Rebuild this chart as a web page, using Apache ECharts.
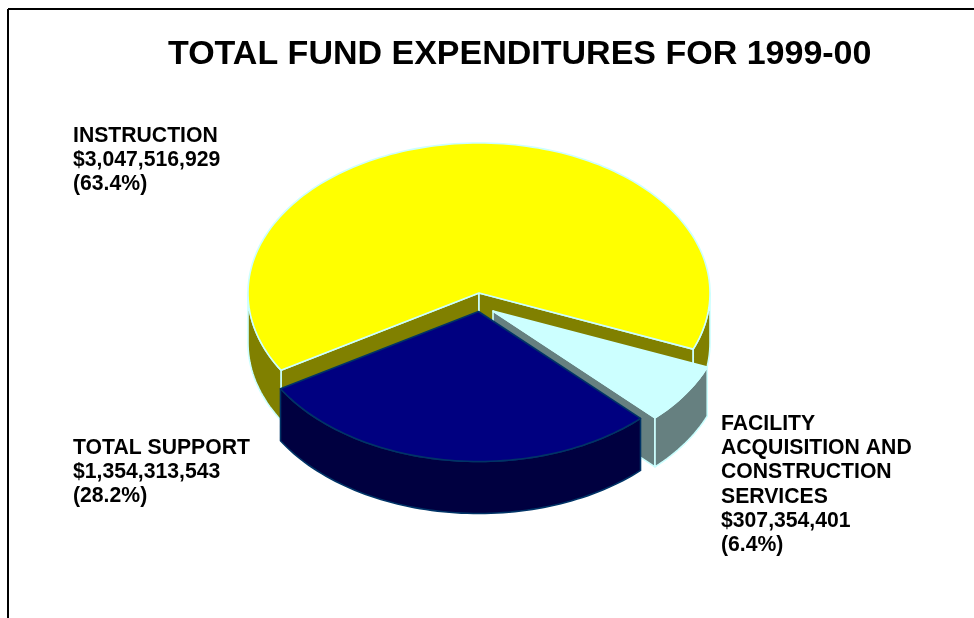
<!DOCTYPE html>
<html>
<head>
<meta charset="utf-8">
<style>html,body{margin:0;padding:0;background:#fff}#c{width:974px;height:618px}</style>
<script src="https://cdn.jsdelivr.net/npm/echarts@6/dist/echarts.min.js"></script>
</head>
<body>
<div id="c"></div>
<script>
// Data, in drawing order (clockwise from the left edge of INSTRUCTION)
var categories = ['INSTRUCTION', 'FACILITY ACQUISITION AND CONSTRUCTION SERVICES', 'TOTAL SUPPORT'];
var amounts = [3047516929, 307354401, 1354313543];
var amountLabels = ['$3,047,516,929', '$307,354,401', '$1,354,313,543'];
var percentLabels = ['(63.4%)', '(6.4%)', '(28.2%)'];
var titleText = 'TOTAL FUND EXPENDITURES FOR 1999-00';

// Styling and layout
var topColors = ['#FFFF00', '#CCFFFF', '#000080'];
var wallColors = ['#808000', '#668080', '#000040'];
var strokeColors = ['#CCFFFF', '#CCFFFF', '#003366'];
var centers = [[479, 293], [493, 311], [478.5, 311.5]];
var depths = [50, 49, 52];
var RX = 231, RY = 150, START = 149;

var total = amounts.reduce(function (a, b) { return a + b; }, 0);
function rad(d) { return d * Math.PI / 180; }
function pt(c, a, dy) { return [c[0] + RX * Math.cos(rad(a)), c[1] + RY * Math.sin(rad(a)) + (dy || 0)]; }
function arc(c, a0, a1, dy) {
  var out = [], n = Math.max(2, Math.ceil((a1 - a0) / 1.5));
  for (var i = 0; i <= n; i++) out.push(pt(c, a0 + (a1 - a0) * i / n, dy));
  return out;
}
function renderItem(params, api) {
  var idx = params.dataIndex, a0 = START;
  for (var i = 0; i < idx; i++) a0 += amounts[i] / total * 360;
  var a1 = a0 + api.value(0) / total * 360;
  var c = centers[idx], d = depths[idx], kids = [];
  function poly(points, fill) {
    kids.push({ type: 'polygon', silent: true, shape: { points: points },
      style: { fill: fill, stroke: strokeColors[idx], lineWidth: 1.6, lineJoin: 'round' } });
  }
  // cut faces turned towards the viewer
  [[a0, a0 - 90], [a1, a1 + 90]].forEach(function (e) {
    if (Math.sin(rad(e[1])) > 0) {
      var p = pt(c, e[0]), q = pt(c, e[0], d);
      poly([c, p, q, [c[0], c[1] + d]], wallColors[idx]);
    }
  });
  // outer rim on the near half of the pie
  [0, 360].forEach(function (k) {
    var lo = Math.max(a0, k), hi = Math.min(a1, k + 180);
    if (hi > lo) poly(arc(c, lo, hi, 0).concat(arc(c, lo, hi, d).reverse()), wallColors[idx]);
  });
  // top face
  poly([c].concat(arc(c, a0, a1, 0)), topColors[idx]);
  return { type: 'group', children: kids };
}

var labelFont = { fontFamily: 'Liberation Sans, Arial, sans-serif', fontWeight: 'bold', fontSize: 21.2, lineHeight: 24.2, fill: '#000' };
function lbl(x, y, lines) {
  return { type: 'text', left: x, top: y, silent: true,
    style: Object.assign({ text: lines.join('\n') }, labelFont) };
}
var chart = echarts.init(document.getElementById('c'), null, { renderer: 'canvas' });
chart.setOption({
  animation: false,
  backgroundColor: '#fff',
  title: { text: titleText, left: 168, top: 38, padding: 0,
    textStyle: { fontFamily: 'Liberation Sans, Arial, sans-serif', fontWeight: 'bold', fontSize: 34, color: '#000' } },
  series: [{ type: 'custom', coordinateSystem: 'none', renderItem: renderItem, silent: true, data: amounts.map(function (v) { return [v]; }) }],
  graphic: [
    { type: 'line', silent: true, shape: { x1: 8, y1: 9, x2: 974, y2: 9 }, style: { stroke: '#000', lineWidth: 2 } },
    { type: 'line', silent: true, shape: { x1: 8, y1: 9, x2: 8, y2: 618 }, style: { stroke: '#000', lineWidth: 2 } },
    lbl(73, 124, [categories[0], amountLabels[0], percentLabels[0]]),
    lbl(73, 436, [categories[2], amountLabels[2], percentLabels[2]]),
    lbl(721, 412, ['FACILITY', 'ACQUISITION AND', 'CONSTRUCTION', 'SERVICES', amountLabels[1], percentLabels[1]])
  ]
});
</script>
</body>
</html>
